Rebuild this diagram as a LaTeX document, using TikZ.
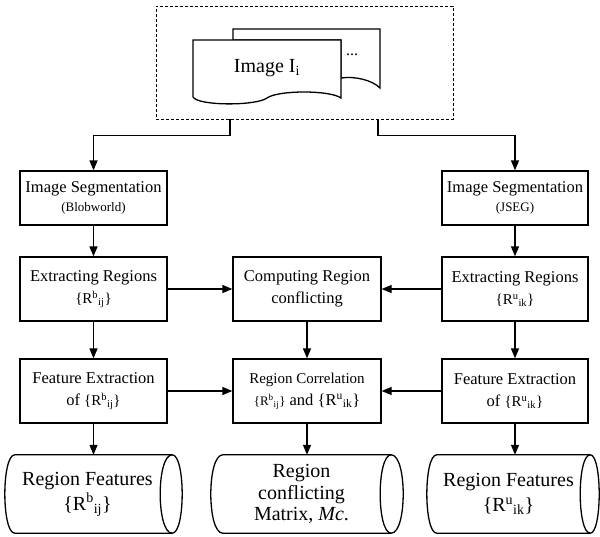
\documentclass[tikz,border=0pt]{standalone}
\usepackage{fontspec}
\setmainfont{Liberation Serif}
\usetikzlibrary{arrows.meta,calc}
\newcommand\myRb{\{R\textsuperscript{b}\textsubscript{ij}\}}
\newcommand\myRu{\{R\textsuperscript{u}\textsubscript{ik}\}}
\begin{document}
\begin{tikzpicture}[x=1pt,y=-1pt,
  box/.style={draw,line width=1.3pt,inner sep=0pt,align=center,font=\fontsize{16.5}{22}\selectfont},
  arr/.style={line width=1.3pt,-{Triangle[length=10pt,width=8pt]}},
  ln/.style={line width=1.3pt},
  cyltext/.style={inner sep=0pt,minimum height=78pt,align=center,font=\fontsize{20}{25}\selectfont},
  srcbox/.style={draw,line width=0.8pt,dash pattern=on 3pt off 2pt,inner sep=0pt}]
\useasboundingbox (0,0) rectangle (600,536);

% source (dashed) box
\node[srcbox,minimum width=297pt,minimum height=113pt] (src) at (304.5,62.5) {};
% back document
\draw[ln,fill=white] (233,40) -- (233,29) -- (380,29) -- (380,88)
  .. controls (372,80) and (355,76) .. (341,78) -- (341,40) -- cycle;
% front document
\draw[ln,fill=white] (193,97) -- (193,40) -- (341,40) -- (341,98)
  .. controls (330,90) and (278,90) .. (267,98)
  .. controls (256,106) and (198,106) .. (193,97) -- cycle;
\node[font=\fontsize{20}{24}\selectfont,inner sep=0pt] (img) at (267,68) {Image I\textsubscript{i}};
\node[font=\fontsize{16}{20}\selectfont,inner sep=0pt] (dots) at (352,55) {...};

% row 1
\node[box,minimum width=147pt,minimum height=54pt] (segB) at (93.5,198)
  {Image Segmentation\\[-3pt]{\fontsize{13}{15}\selectfont (Blobworld)}};
\node[box,minimum width=146pt,minimum height=54pt] (segU) at (515,198)
  {Image Segmentation\\[-3pt]{\fontsize{13}{15}\selectfont (JSEG)}};
% row 2
\node[box,minimum width=147pt,minimum height=64pt] (extB) at (93.5,289)
  {Extracting Regions\\{\fontsize{15}{18}\selectfont\myRb}};
\node[box,minimum width=148pt,minimum height=64pt] (comp) at (307,289)
  {Computing Region\\conflicting};
\node[box,minimum width=146pt,minimum height=64pt] (extU) at (515,289)
  {Extracting Regions\\{\fontsize{15}{18}\selectfont\myRu}};
% row 3
\node[box,minimum width=147pt,minimum height=64pt] (featB) at (93.5,391)
  {Feature Extraction\\of {\fontsize{15}{18}\selectfont\myRb}};
\node[box,minimum width=148pt,minimum height=64pt] (corr) at (307,391)
  {{\fontsize{15}{18}\selectfont Region Correlation}\\{\fontsize{13}{16}\selectfont\myRb} and \myRu};
\node[box,minimum width=146pt,minimum height=64pt] (featU) at (515,391)
  {Feature Extraction\\of {\fontsize{15}{18}\selectfont\myRu}};

% cylinders
\node[cyltext,minimum width=145pt] (cylB) at (87.5,494) {Region Features\\\myRb};
\node[cyltext,minimum width=157pt,font=\fontsize{20}{21.5}\selectfont] (cylM) at (301.5,494) {Region\\conflicting\\Matrix, \textit{Mc}.};
\node[cyltext,minimum width=143pt] (cylU) at (508.5,494) {Region Features\\\myRu};

\draw[ln] (cylB.north west) .. controls +(-13.3,0) and +(-13.3,0) .. (cylB.south west)
  -- ($(cylB.south east)+(12,0)$) .. controls +(13.3,0) and +(13.3,0) .. ($(cylB.north east)+(12,0)$) -- cycle;
\draw[ln] ($(cylB.north east)+(12,0)$) .. controls +(-16,0) and +(-16,0) .. ($(cylB.south east)+(12,0)$);

\draw[ln] (cylM.north west) .. controls +(-16,0) and +(-16,0) .. (cylM.south west)
  -- ($(cylM.south east)+(11,0)$) .. controls +(16,0) and +(16,0) .. ($(cylM.north east)+(11,0)$) -- cycle;
\draw[ln] ($(cylM.north east)+(11,0)$) .. controls +(-14.7,0) and +(-14.7,0) .. ($(cylM.south east)+(11,0)$);

\draw[ln] (cylU.north west) .. controls +(-13.3,0) and +(-13.3,0) .. (cylU.south west)
  -- ($(cylU.south east)+(10,0)$) .. controls +(12,0) and +(12,0) .. ($(cylU.north east)+(10,0)$) -- cycle;
\draw[ln] ($(cylU.north east)+(10,0)$) .. controls +(-13.3,0) and +(-13.3,0) .. ($(cylU.south east)+(10,0)$);

% connectors
\draw[arr] ([xshift=-74.5pt]src.south) -- ++(0,16) -| (segB.north);
\draw[arr] ([xshift=73.5pt]src.south) -- ++(0,16) -| (segU.north);
\draw[arr] (segB) -- (extB);
\draw[arr] (segU) -- (extU);
\draw[arr] (extB) -- (featB);
\draw[arr] (extU) -- (featU);
\draw[arr] (extB) -- (comp);
\draw[arr] (extU) -- (comp);
\draw[arr] (comp) -- (corr);
\draw[arr] (featB) -- (corr);
\draw[arr] (featU) -- (corr);
\draw[arr] (featB.south) -- (featB.south |- cylB.north);
\draw[arr] (corr.south) -- (corr.south |- cylM.north);
\draw[arr] (featU.south) -- (featU.south |- cylU.north);
\end{tikzpicture}
\end{document}
